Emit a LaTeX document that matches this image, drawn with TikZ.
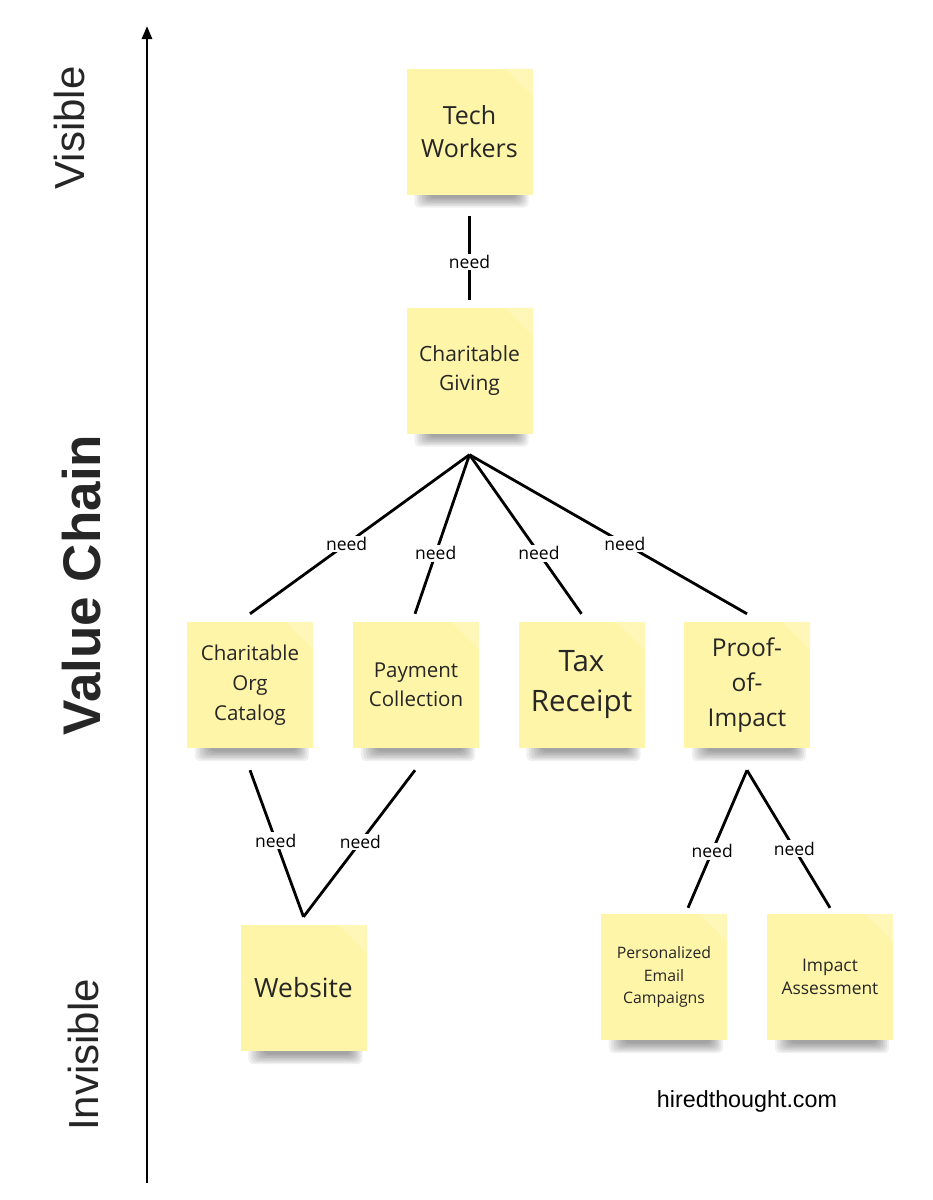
\documentclass[tikz,border=0pt]{standalone}
\usepackage{fontspec}
\setmainfont{Liberation Sans}
\newfontfamily\osans{Open Sans}
\usetikzlibrary{arrows.meta,calc}
\definecolor{sticky}{RGB}{254,245,168}
\definecolor{stickylight}{RGB}{255,250,205}
\definecolor{ink}{RGB}{38,38,38}
\pgfdeclarelayer{paper}
\pgfdeclarelayer{shadowlayer}
\pgfsetlayers{paper,shadowlayer,main}
\begin{document}
\begin{tikzpicture}[x=1pt,y=-1pt,
  note/.style={rectangle, fill=sticky, minimum width=126pt, minimum height=126pt,
    inner sep=3pt, text width=120pt, align=center, text=ink},
  conn/.style={draw=black, line width=2.8pt, line cap=butt},
  lbl/.style={fill=white, inner sep=1.5pt, text=black,
    font=\osans\fontsize{17.5}{21}\selectfont},
  axislbl/.style={rotate=90, inner sep=0pt, text=ink}
]
\begin{pgfonlayer}{paper}
\fill[white] (0,0) rectangle (933,1200);
\end{pgfonlayer}
\useasboundingbox (0,0) rectangle (933,1200);

% axis
\coordinate (axbot) at (147,1183);
\coordinate (axtop) at (147,26);
\draw[line width=2.6pt, -{Triangle[length=13pt,width=10pt]}] (axbot) -- (axtop);
\node[axislbl, font=\fontsize{42}{50}\selectfont] (vis) at (69.5,128) {Visible};
\node[axislbl, font=\bfseries\fontsize{53}{60}\selectfont] (vc) at (81.5,585) {Value Chain};
\node[axislbl, font=\fontsize{42}{50}\selectfont] (invis) at (83.5,1055) {Invisible};

% sticky notes
\node[note, font=\osans\fontsize{25}{33.5}\selectfont] (tw) at (469.5,131.5) {Tech\\Workers};
\node[note, font=\osans\fontsize{21}{29}\selectfont] (cg) at (469.5,370.5) {Charitable\\Giving};
\node[note, font=\osans\fontsize{20.5}{30}\selectfont] (cat) at (250,685) {Charitable\\Org\\Catalog};
\node[note, font=\osans\fontsize{20.5}{29}\selectfont] (pay) at (416,685) {Payment\\Collection};
\node[note, font=\osans\fontsize{29.5}{40}\selectfont] (tax) at (581.5,685) {Tax\\Receipt};
\node[note, font=\osans\fontsize{24.5}{35}\selectfont] (poi) at (747,685) {Proof-\\of-\\Impact};
\node[note, font=\osans\fontsize{26.5}{34}\selectfont] (web) at (303.5,988) {Website};
\node[note, font=\osans\fontsize{15.8}{22.5}\selectfont] (pec) at (664,977) {Personalized\\Email\\Campaigns};
\node[note, font=\osans\fontsize{17.4}{23.5}\selectfont] (ia) at (830,977) {Impact\\Assessment};

% soft shadows under the notes, folded corner highlights
\begin{pgfonlayer}{shadowlayer}
\foreach \n in {tw,cg,cat,pay,tax,poi,web,pec,ia}{
  \foreach \i in {0,...,6}{
    \fill[black, opacity=0.06, rounded corners=5pt]
      ($(\n.south west)+(8+2.5*\i,-6)$) rectangle ($(\n.south east)+(-4-2*\i,13-1.6*\i)$);
  }
}
\end{pgfonlayer}
\foreach \n in {tw,cg,cat,pay,tax,poi,web,pec,ia}{
  \fill[stickylight, opacity=0.45] ($(\n.north east)+(-28,0)$) -- (\n.north east) -- ($(\n.north east)+(0,28)$) -- cycle;
}

% connectors
\draw[conn] ($(tw.south)+(0,21)$) -- node[lbl,pos=0.55]{need} ($(cg.north)+(0,-7)$);

\coordinate (cgb) at ($(cg.south)+(0,21)$);
\draw[conn] (cgb) -- node[lbl,pos=0.56]{need} ($(cat.north)+(0,-8)$);
\draw[conn] (cgb) -- node[lbl,pos=0.62]{need} ($(pay.north)+(-1,-8)$);
\draw[conn] (cgb) -- node[lbl,pos=0.62]{need} ($(tax.north)+(0,-8)$);
\draw[conn] (cgb) -- node[lbl,pos=0.56]{need} ($(poi.north)+(0,-8)$);

\coordinate (webt) at ($(web.north)+(0,-8)$);
\draw[conn] ($(cat.south)+(0,22)$) -- node[lbl,pos=0.48]{need} (webt);
\draw[conn] ($(pay.south)+(-1,22)$) -- node[lbl,pos=0.49]{need} (webt);

\coordinate (poib) at ($(poi.south)+(0,22)$);
\draw[conn] (poib) -- node[lbl,pos=0.59]{need} ($(pec.north)+(24,-6)$);
\draw[conn] (poib) -- node[lbl,pos=0.57]{need} ($(ia.north)+(0,-6)$);

% footer
\node[anchor=base, inner sep=0pt, text=black, font=\fontsize{23.3}{28}\selectfont] (site) at (747,1107) {hiredthought.com};
\end{tikzpicture}
\end{document}
